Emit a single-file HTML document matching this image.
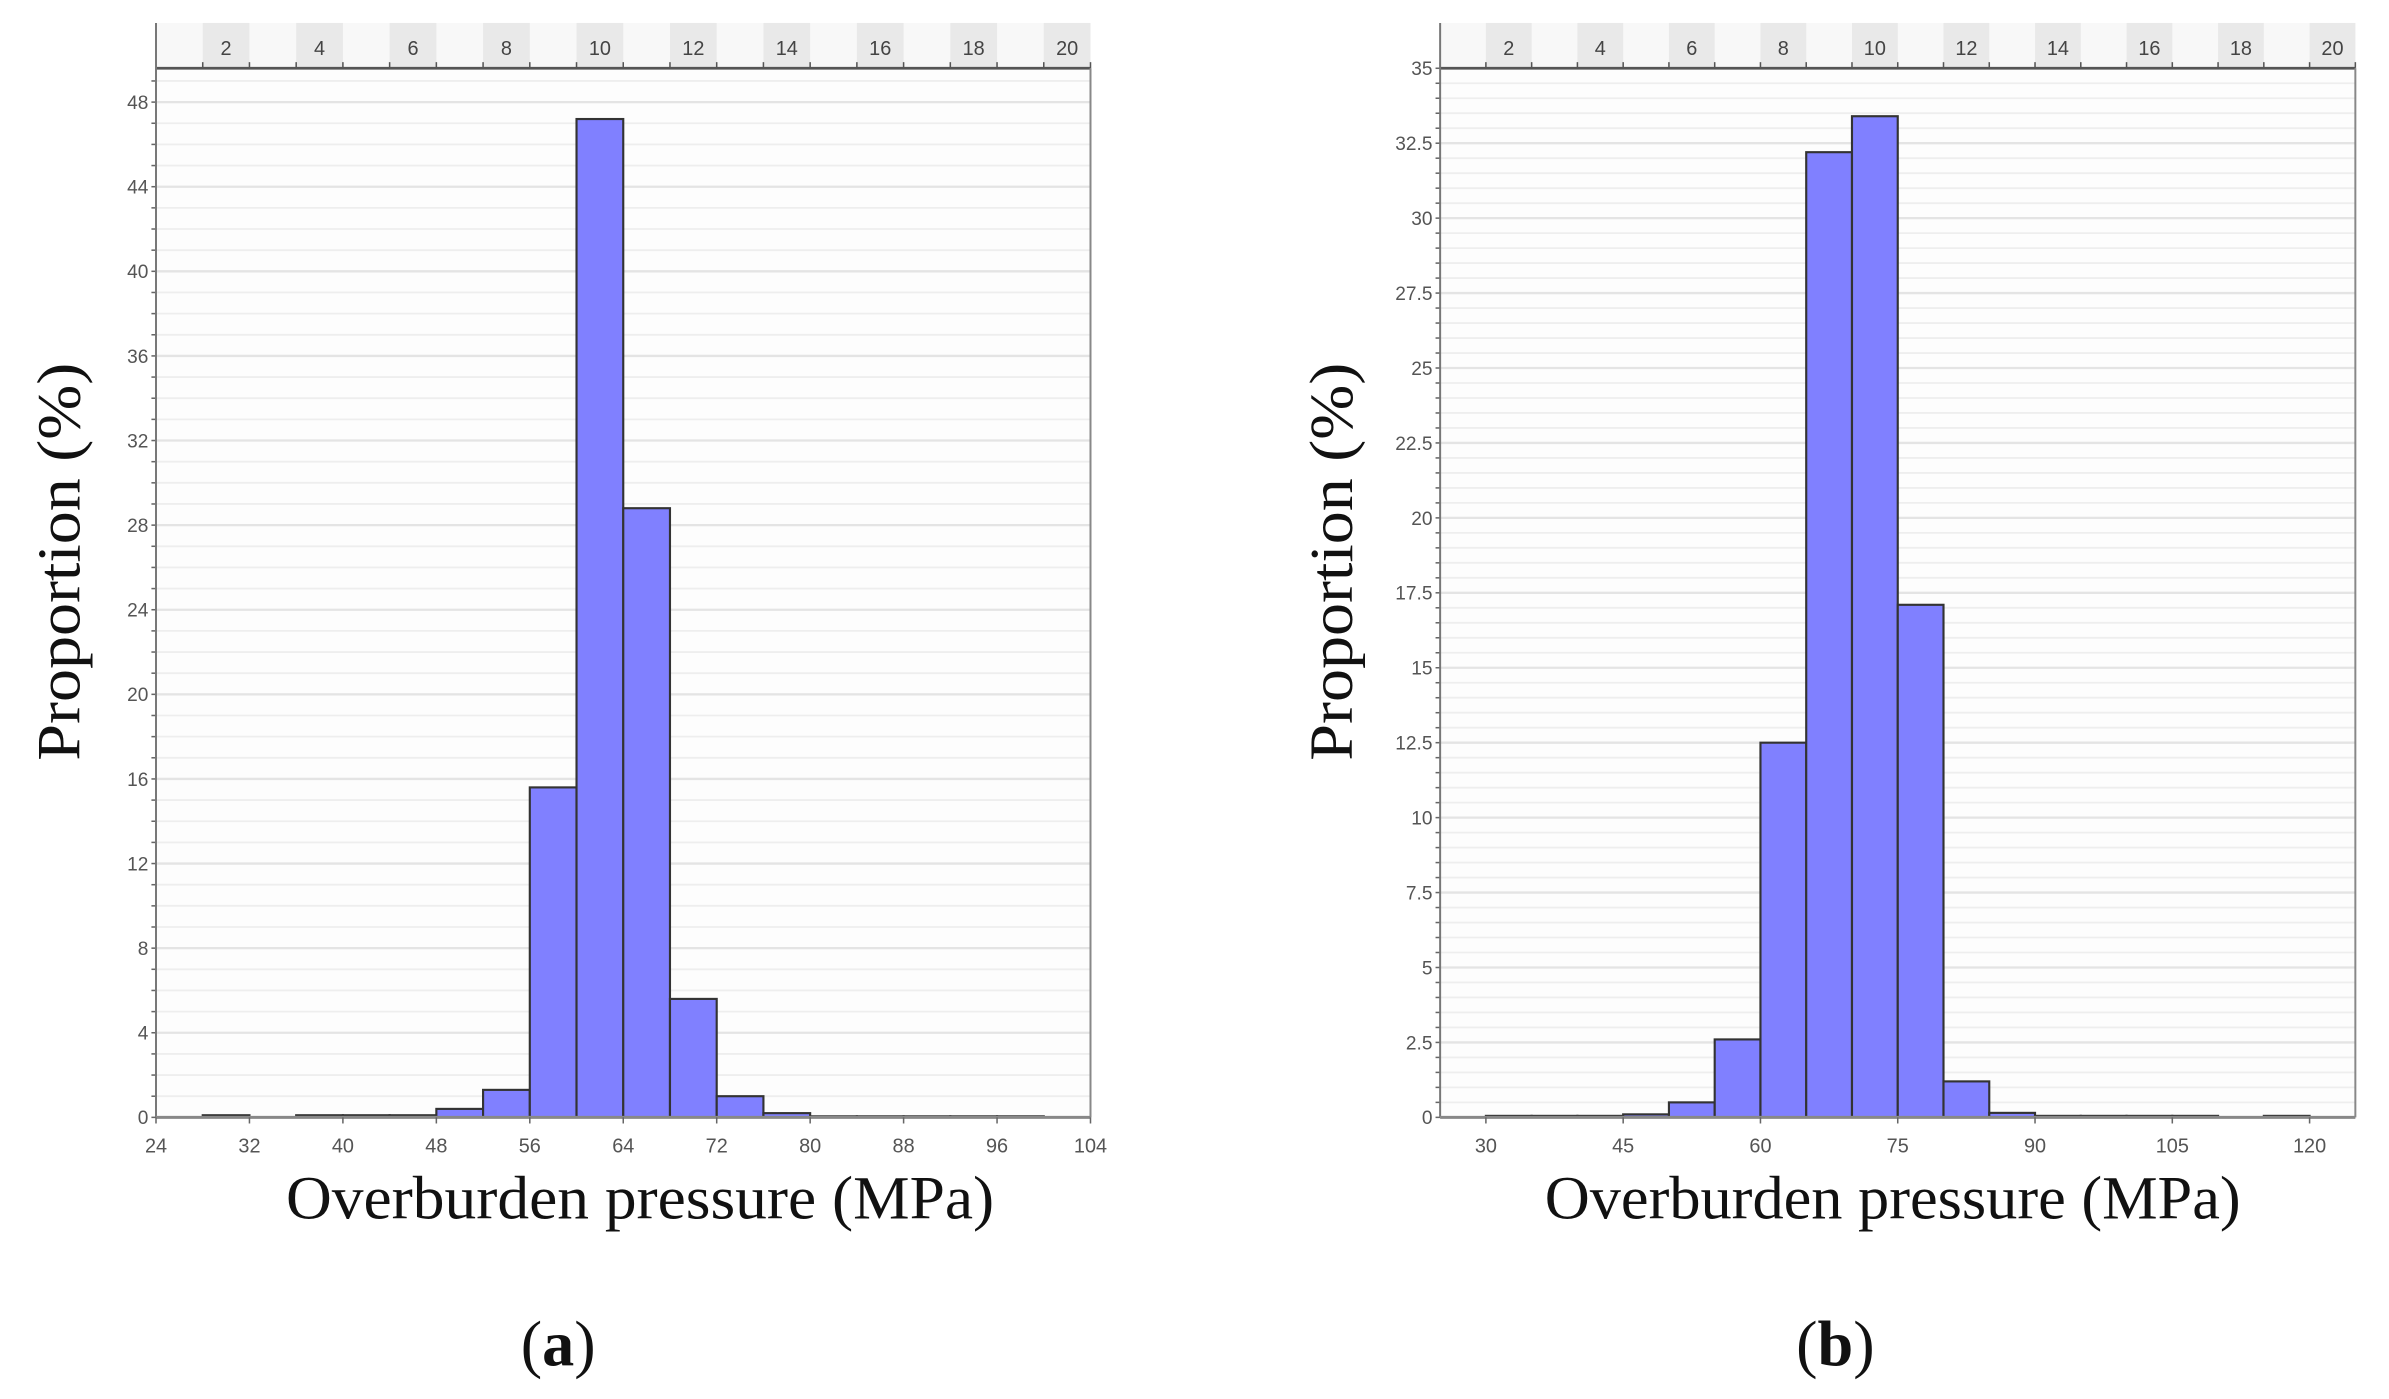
<!DOCTYPE html>
<html><head><meta charset="utf-8"><style>
html,body{margin:0;padding:0;background:#fff;}
svg{display:block;}
text{font-family:"Liberation Sans",sans-serif;}
.serif{font-family:"Liberation Serif",serif;}
</style></head><body>
<svg id="fig" width="2389" height="1399" viewBox="0 0 1562 914" preserveAspectRatio="none" xmlns="http://www.w3.org/2000/svg"></svg>
<script>
// ---- data: panel (a) ----
const binStartA = [28,32,36,40,44,48,52,56,60,64,68,72,76,80,84,88,92,96];
const valuesA   = [0.1,0,0.1,0.1,0.1,0.4,1.3,15.6,47.2,28.8,5.6,1.0,0.2,0.05,0.05,0.05,0.05,0.05];
const xTicksA   = [24,32,40,48,56,64,72,80,88,96,104];
const yTicksA   = [0,4,8,12,16,20,24,28,32,36,40,44,48];
const topLabels = [2,4,6,8,10,12,14,16,18,20];
// ---- data: panel (b) ----
const binStartB = [30,35,40,45,50,55,60,65,70,75,80,85,90,95,100,105,115];
const valuesB   = [0.05,0.05,0.05,0.1,0.5,2.6,12.5,32.2,33.4,17.1,1.2,0.15,0.05,0.05,0.05,0.05,0.05];
const xTicksB   = [30,45,60,75,90,105,120];
const yTicksB   = [0,2.5,5,7.5,10,12.5,15,17.5,20,22.5,25,27.5,30,32.5,35];

const svg=document.getElementById('fig');
const NS='http://www.w3.org/2000/svg';
function mk(tag,attrs,parent){const e=document.createElementNS(NS,tag);for(const k in attrs)e.setAttribute(k,attrs[k]);(parent||svg).appendChild(e);return e;}

function panel(cfg){
  const g=mk('g',{});
  
  
  const L=cfg.left,R=cfg.right,T=44.6,B=730;
  const xs=v=>L+(v-cfg.xmin)/(cfg.xmax-cfg.xmin)*(R-L);
  const ys=v=>B-(v-0)/(cfg.ymax)*(B-T);
  // plot bg
  mk('rect',{x:L,y:T,width:R-L,height:B-T,fill:'#fdfdfd'},g);
  // top strip
  const strip=mk('rect',{x:L,y:15,width:R-L,height:T-15,fill:'#f8f8f8'},g);
  
  
  topLabels.forEach(n=>{
    const c=cfg.binCenter(n);
    mk('rect',{x:c-cfg.bw/2*(R-L)/(cfg.xmax-cfg.xmin),y:15,width:cfg.bw*(R-L)/(cfg.xmax-cfg.xmin),height:T-15,fill:'#e9e9e9'},g);
    const t=mk('text',{x:c,y:36,'font-size':13,'text-anchor':'middle',fill:'#444'},g);
    t.textContent=n;
    
    
  });
  for(let v=cfg.firstBin;v<=cfg.xmax;v+=cfg.bw){mk('line',{x1:xs(v),y1:T,x2:xs(v),y2:T-4,stroke:'#555','stroke-width':1},g);}
  // grid
  for(let v=0;v<=cfg.ymax+1e-9;v+=cfg.minor){
    mk('line',{x1:L,y1:ys(v),x2:R,y2:ys(v),stroke:'#eeeeee','stroke-width':1.2},g);
    mk('line',{x1:L-3,y1:ys(v),x2:L,y2:ys(v),stroke:'#666','stroke-width':1},g);
  }
  cfg.yTicks.forEach(v=>{
    mk('line',{x1:L,y1:ys(v),x2:R,y2:ys(v),stroke:'#e4e4e4','stroke-width':1.5},g);
    const t=mk('text',{x:L-5,y:ys(v)+4.5,'font-size':12.5,'text-anchor':'end',fill:'#555'},g);
    t.textContent=v;
    
    
  });
  // bars
  cfg.bins.forEach((s,i)=>{
    const v=cfg.vals[i];
    if(v<=0)return;
    const r=mk('rect',{x:xs(s),y:ys(v),width:xs(s+cfg.bw)-xs(s),height:B-ys(v),fill:'#8080ff',stroke:'#333','stroke-width':1.4},g);
    
    
  });
  // axes
  mk('line',{x1:L,y1:T,x2:R,y2:T,stroke:'#555','stroke-width':1.8},g);
  mk('line',{x1:L,y1:15,x2:L,y2:B,stroke:'#777','stroke-width':1.3},g);
  mk('line',{x1:R,y1:T,x2:R,y2:B,stroke:'#888','stroke-width':1.3},g);
  mk('line',{x1:L,y1:B,x2:R,y2:B,stroke:'#888','stroke-width':2},g);
  cfg.xTicks.forEach(v=>{
    mk('line',{x1:xs(v),y1:B,x2:xs(v),y2:B+4,stroke:'#666','stroke-width':1},g);
    const t=mk('text',{x:xs(v),y:753,'font-size':13,'text-anchor':'middle',fill:'#555'},g);
    t.textContent=v;
    
    
  });
  const xt=mk('text',{class:'serif',x:cfg.xtx,y:796,'font-size':40,textLength:cfg.xtw,lengthAdjust:'spacingAndGlyphs',fill:'#111'},g);
  xt.textContent='Overburden pressure (MPa)';
  
  
  const yt=mk('text',{class:'serif','font-size':40,textLength:260,lengthAdjust:'spacingAndGlyphs',fill:'#111',transform:`translate(${cfg.ytx},497) rotate(-90)`},g);
  yt.textContent='Proportion (%)';
  
  
  const cap=mk('text',{class:'serif',x:cfg.capx,y:892,'font-size':42,'text-anchor':'middle',fill:'#111'},g);
  cap.innerHTML='(<tspan font-weight="bold">'+cfg.letter+'</tspan>)';
  
  
}
panel({name:'panel-a',left:102,right:713,xmin:24,xmax:104,ymax:49.6,minor:1,bw:4,firstBin:24,
  bins:binStartA,vals:valuesA,xTicks:xTicksA,yTicks:yTicksA,
  binCenter:n=>102+((22+4*n)-24)/80*611,xtx:187,xtw:463,ytx:52,capx:365,letter:'a'});
panel({name:'panel-b',left:941.6,right:1540,xmin:25,xmax:125,ymax:35,minor:0.5,bw:5,firstBin:25,
  bins:binStartB,vals:valuesB,xTicks:xTicksB,yTicks:yTicksB,
  binCenter:n=>941.6+((22.5+5*n)-25)/100*598.4,xtx:1010,xtw:455,ytx:884,capx:1200,letter:'b'});
</script>
</body></html>
